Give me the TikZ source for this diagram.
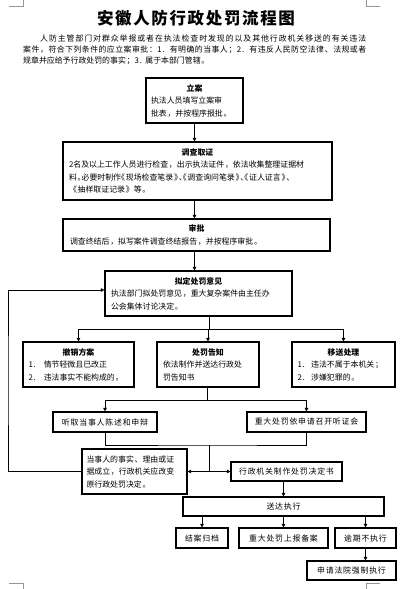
\documentclass[tikz,border=0pt]{standalone}
\usepackage{fontspec}
\usepackage{tikz}
\usetikzlibrary{arrows.meta,positioning,calc}
\newfontfamily\cjk[LetterSpace=10]{Noto Sans CJK SC}
\definecolor{markgray}{RGB}{150,150,150}
\newcommand{\boxhead}[1]{{\centering\bfseries #1\par}}
\newcommand{\halfpunct}{\addfontfeatures{RawFeature=+halt}}

\begin{document}
\begin{tikzpicture}[x=1pt, y=-1pt,
flowbox/.style={draw, line width=1.1pt, inner sep=0pt, align=left,
  font=\cjk\fontsize{7.9}{12.5}\selectfont},
onebox/.style={draw, line width=1.1pt, inner sep=0pt, align=center,
  minimum height=20pt, font=\cjk\fontsize{7.9}{12.5}\selectfont},
intro/.style={inner sep=0pt, text width=343pt, align=justify,
  font=\cjk\fontsize{7.9}{11}\selectfont},
link/.style={line width=0.9pt},
arrow/.style={-{Triangle[length=3.6pt,width=3.6pt]}, line width=0.9pt},
crop/.style={draw=markgray, line width=0.6pt}
]
\useasboundingbox (0,0) rectangle (412,589);

% page corner marks
\draw[crop] (9,6) -- (23,6) -- (23,0);
\draw[crop] (366,0) -- (366,6) -- (380,6);
\draw[crop] (9,583) -- (23,583) -- (23,589);
\draw[crop] (366,589) -- (366,583) -- (380,583);

\node[font=\cjk\fontsize{16.5}{20}\selectfont\bfseries] (title) at (196,18) {安徽人防行政处罚流程图};

\node[intro, anchor=north west] (intro) at (23,35)
{\XeTeXlinebreaklocale "zh"\XeTeXlinebreakskip=0pt plus 1pt\relax
\hspace*{17pt}人防主管部门对群众举报或者在执法检查时发现的以及其他行政机关移送的有关违法\linebreak
案件，符合下列条件的应立案审批：1. 有明确的当事人；2. 有违反人民防空法律、法规或者\linebreak
规章并应给予行政处罚的事实；3. 属于本部门管辖。};

\node[flowbox, minimum width=97pt, minimum height=45pt, text width=87pt] (lian) at (194.5,100.5)
{\boxhead{立案}执法人员填写立案审\\批表，并按程序报批。};
\node[flowbox, minimum width=269pt, minimum height=58pt, text width=257pt] (diaocha) at (197.5,171)
{\boxhead{调查取证}2名及以上工作人员进行检查，出示执法证件，依法收集整理证据材\\
{\halfpunct 料。必要时制作《现场检查笔录》、《调查询问笔录》、《证人证言》、}\\
《抽样取证记录》等。};
\node[flowbox, minimum width=267pt, minimum height=32pt, text width=253pt] (shenpi) at (196.5,235)
{\boxhead{审批}调查终结后，拟写案件调查终结报告，并按程序审批。};
\node[flowbox, minimum width=187pt, minimum height=45pt, text width=175pt] (niding) at (198.5,293.5)
{\boxhead{拟定处罚意见}执法部门拟处罚意见，重大复杂案件由主任办\\公会集体讨论决定。};

\node[flowbox, minimum width=111pt, minimum height=45pt, text width=100pt] (chexiao) at (78.5,364.5)
{\boxhead{撤销方案}1.\hspace{1em}情节轻微且已改正\\2.\hspace{1em}违法事实不能构成的。};
\node[flowbox, minimum width=102pt, minimum height=45pt, text width=90pt] (chufa) at (208,364.5)
{\boxhead{处罚告知}依法制作并送达行政处\\罚告知书};
\node[flowbox, minimum width=103pt, minimum height=45pt, text width=92pt] (yisong) at (343.5,364.5)
{\boxhead{移送处理}1.\hspace{0.8em}违法不属于本机关；\\2.\hspace{0.8em}涉嫌犯罪的。};

\node[onebox, minimum width=104pt] (tingqu) at (105,422) {听取当事人陈述和申辩};
\node[onebox, minimum width=119pt] (tingzheng) at (306.5,422) {重大处罚依申请召开听证会};

\node[flowbox, minimum width=105pt, minimum height=45pt, text width=96pt] (dangshi) at (134.5,471.5)
{当事人的事实、理由或证\\据成立，行政机关应改变\\原行政处罚决定。};
\node[onebox, minimum width=111pt, minimum height=19pt] (zhizuo) at (286.5,471.5) {行政机关制作处罚决定书};
\node[onebox, minimum width=201pt, minimum height=19pt] (songda) at (283.5,506.5) {送达执行};

\node[onebox, minimum width=52pt] (jiean) at (202,538) {结案归档};
\node[onebox, minimum width=89pt] (beian) at (283.5,538) {重大处罚上报备案};
\node[onebox, minimum width=61pt] (yuqi) at (365.5,538) {逾期不执行};
\node[onebox, minimum width=89pt, minimum height=19pt] (qiangzhi) at (351.5,570.5) {申请法院强制执行};

% junctions
\coordinate (j1) at (209,329);
\coordinate (j2) at (207,400);
\coordinate (j3) at (209,445);
\coordinate (huix) at (8,380);

\draw[arrow] (lian.south) -- (lian.south |- diaocha.north);
\draw[arrow] (lian.south |- diaocha.south) -- (lian.south |- shenpi.north);
\draw[arrow] (lian.south |- shenpi.south) -- (lian.south |- niding.north);

\draw[link] (niding.south -| j1) -- (j1);
\draw[link] (chexiao.north |- j1) -- (yisong.north |- j1);
\draw[arrow] (chexiao.north |- j1) -- (chexiao.north);
\draw[arrow] (chufa.north |- j1) -- (chufa.north);
\draw[arrow] (yisong.north |- j1) -- (yisong.north);

\draw[link] (chufa.south -| j2) -- (j2);
\draw[link] (tingqu.north |- j2) -- (tingzheng.north |- j2);
\draw[arrow] (tingqu.north |- j2) -- (tingqu.north);
\draw[arrow] (tingzheng.north |- j2) -- (tingzheng.north);

\draw[link] (tingqu.south) |- (j3) -| (tingzheng.south);
\draw[link] (j3) -- (j3 |- dangshi.east);
\draw[arrow] (j3 |- dangshi.east) -- (dangshi.east);
\draw[arrow] (j3 |- zhizuo.west) -- (zhizuo.west);

\draw[arrow] (dangshi.west) -| (huix) |- ([yshift=3.5pt]niding.west);

\draw[arrow] (songda.north |- zhizuo.south) -- (songda.north);
\draw[arrow] (jiean.north |- songda.south) -- (jiean.north);
\draw[arrow] (beian.north |- songda.south) -- (beian.north);
\draw[arrow] (yuqi.north |- songda.south) -- (yuqi.north);
\draw[arrow] (yuqi.south) -- (yuqi.south |- qiangzhi.north);

\end{tikzpicture}
\end{document}
